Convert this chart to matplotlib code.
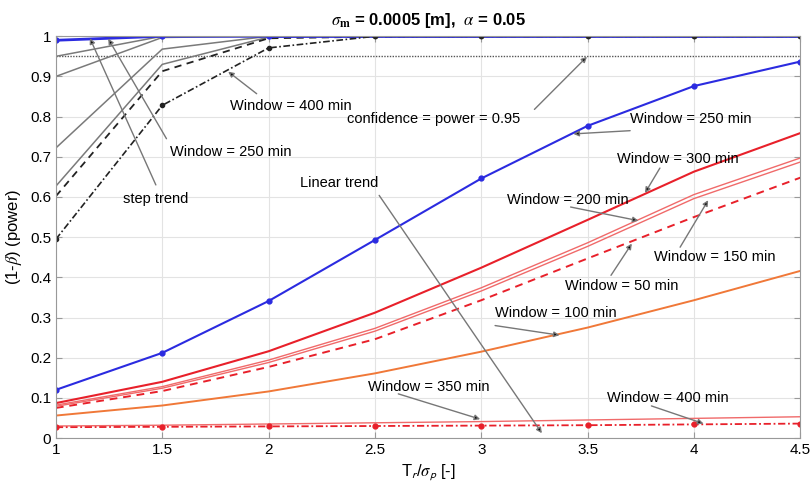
import matplotlib.pyplot as plt

plt.rcParams["font.family"] = ["Liberation Sans", "DejaVu Sans"]
plt.rcParams["mathtext.fontset"] = "stix"

# Tr / sigma_p
x = [1, 1.5, 2, 2.5, 3, 3.5, 4, 4.5]

# step trend
step_w250 = [0.99, 1.0, 1.0, 1.0, 1.0, 1.0, 1.0, 1.0]
step_w400 = [0.495, 0.828, 0.971, 1.0, 1.0, 1.0, 1.0, 1.0]
step_dash = [0.602, 0.913, 0.995, 0.999, 1.0, 1.0, 1.0, 1.0]
step_g1 = [0.627, 0.930, 0.998, 1.0, 1.0, 1.0, 1.0, 1.0]
step_g2 = [0.722, 0.968, 1.0, 1.0, 1.0, 1.0, 1.0, 1.0]
step_g3 = [0.900, 0.997, 1.0, 1.0, 1.0, 1.0, 1.0, 1.0]
step_g4 = [0.950, 1.0, 1.0, 1.0, 1.0, 1.0, 1.0, 1.0]

# linear trend
lin_w250 = [0.120, 0.212, 0.341, 0.493, 0.646, 0.777, 0.876, 0.937]
lin_w300 = [0.087, 0.140, 0.216, 0.312, 0.424, 0.543, 0.663, 0.759]
lin_w200 = [0.082, 0.128, 0.194, 0.273, 0.374, 0.486, 0.606, 0.697]
lin_w150 = [0.079, 0.124, 0.188, 0.266, 0.366, 0.477, 0.596, 0.687]
lin_w50 = [0.075, 0.117, 0.177, 0.246, 0.343, 0.447, 0.550, 0.648]
lin_w100 = [0.056, 0.081, 0.116, 0.161, 0.215, 0.275, 0.343, 0.416]
lin_w350 = [0.030, 0.032, 0.035, 0.038, 0.041, 0.045, 0.049, 0.053]
lin_w400 = [0.027, 0.028, 0.029, 0.030, 0.031, 0.032, 0.034, 0.036]

conf_level = 0.95

xticks = [1, 1.5, 2, 2.5, 3, 3.5, 4, 4.5]
yticks = [0, 0.1, 0.2, 0.3, 0.4, 0.5, 0.6, 0.7, 0.8, 0.9, 1]

fig = plt.figure(figsize=(8.1, 4.9), dpi=100)
ax = fig.add_axes([0.069, 0.106, 0.919, 0.820])

ax.axhline(conf_level, color="#555555", lw=1, ls=(0, (1, 1)))

# linear trend curves
red = "#e8202a"
thin_red = "#f06a6a"
ax.plot(x, lin_w100, color="#f07838", lw=1.4)
ax.plot(x, lin_w50, color=red, lw=1.4, ls=(0, (4, 3)))
ax.plot(x, lin_w150, color=thin_red, lw=1)
ax.plot(x, lin_w200, color=thin_red, lw=1)
ax.plot(x, lin_w300, color=red, lw=1.5)
ax.plot(x, lin_w350, color=thin_red, lw=1)
ax.plot(x, lin_w400, color=red, lw=1.3, ls=(0, (4, 1.5, 1, 1.5)), marker="o", ms=3.5)
ax.plot(x, lin_w250, color="#2b2be0", lw=1.5, marker="o", ms=3.5)

# step trend curves
gray = "#7a7a7a"
for s in (step_g1, step_g2, step_g3, step_g4):
    ax.plot(x, s, color=gray, lw=1.1)
ax.plot(x, step_dash, color="#222222", lw=1.3, ls=(0, (4, 3)))
ax.plot(x[:3], step_w250[:3], color="#2b2be0", lw=2, marker="o", ms=3.5)
ax.plot(x[2:], step_w250[2:], color="#2b2be0", lw=2)
ax.plot(x, step_w400, color="#222222", lw=1.2, ls=(0, (4, 1.5, 1, 1.5)), marker="o", ms=3)
ax.plot(x[3:], step_w400[3:], color="#222222", lw=1.5, marker="o", ms=3)

arrow = dict(arrowstyle="-|>", ec="#777777", fc="black", lw=1, mutation_scale=8,
             shrinkA=0, shrinkB=0)
notes = [
    ("Window = 400 min", (1.82, 0.826), (1.944, 0.857), (1.81, 0.912)),
    ("Window = 250 min", (1.536, 0.711), (1.52, 0.745), (1.246, 0.994)),
    ("step trend", (1.315, 0.594), (1.47, 0.63), (1.16, 0.995)),
    ("confidence = power = 0.95", (2.368, 0.795), (3.25, 0.818), (3.497, 0.949)),
    ("Window = 250 min", (3.70, 0.793), (3.70, 0.765), (3.433, 0.757)),
    ("Window = 300 min", (3.637, 0.694), (3.84, 0.672), (3.77, 0.610)),
    ("Window = 200 min", (3.12, 0.592), (3.42, 0.575), (3.739, 0.541)),
    ("Window = 150 min", (3.81, 0.451), (3.935, 0.475), (4.067, 0.592)),
    ("Window = 50 min", (3.394, 0.378), (3.61, 0.405), (3.708, 0.484)),
    ("Window = 100 min", (3.065, 0.312), (3.065, 0.28), (3.368, 0.256)),
    ("Window = 350 min", (2.468, 0.126), (2.61, 0.11), (2.995, 0.047)),
    ("Window = 400 min", (3.59, 0.099), (3.80, 0.08), (4.045, 0.036)),
    ("Linear trend", (2.148, 0.635), (2.52, 0.604), (3.285, 0.012)),
]
for text, tpos, tail, tip in notes:
    ax.annotate("", xy=tip, xytext=tail, arrowprops=arrow)
    ax.text(tpos[0], tpos[1], text, fontsize=10.5, ha="left", va="center")

ax.set_xlim(1, 4.5)
ax.set_ylim(0, 1)
ax.set_xticks(xticks)
ax.set_xticklabels([f"{v:g}" for v in xticks])
ax.set_yticks(yticks)
ax.set_yticklabels([f"{v:g}" for v in yticks])
ax.tick_params(direction="in", right=True, top=True, length=4, labelsize=11,
               color="#999999")
ax.grid(True, color="#e3e3e3", lw=0.8)
ax.set_axisbelow(True)
for sp in ax.spines.values():
    sp.set_color("#999999")

ax.set_title(r"$\sigma_\mathbf{m}$ = 0.0005 [m],  $\alpha$ = 0.05",
             fontsize=12, fontweight="bold", pad=8)
ax.set_xlabel(r"T$_\mathsf{r}$/$\sigma_\mathsf{p}$ [-]", fontsize=12)
ax.set_ylabel(r"(1-$\beta$) (power)", fontsize=12)

fig.savefig("out.png", dpi=100)
